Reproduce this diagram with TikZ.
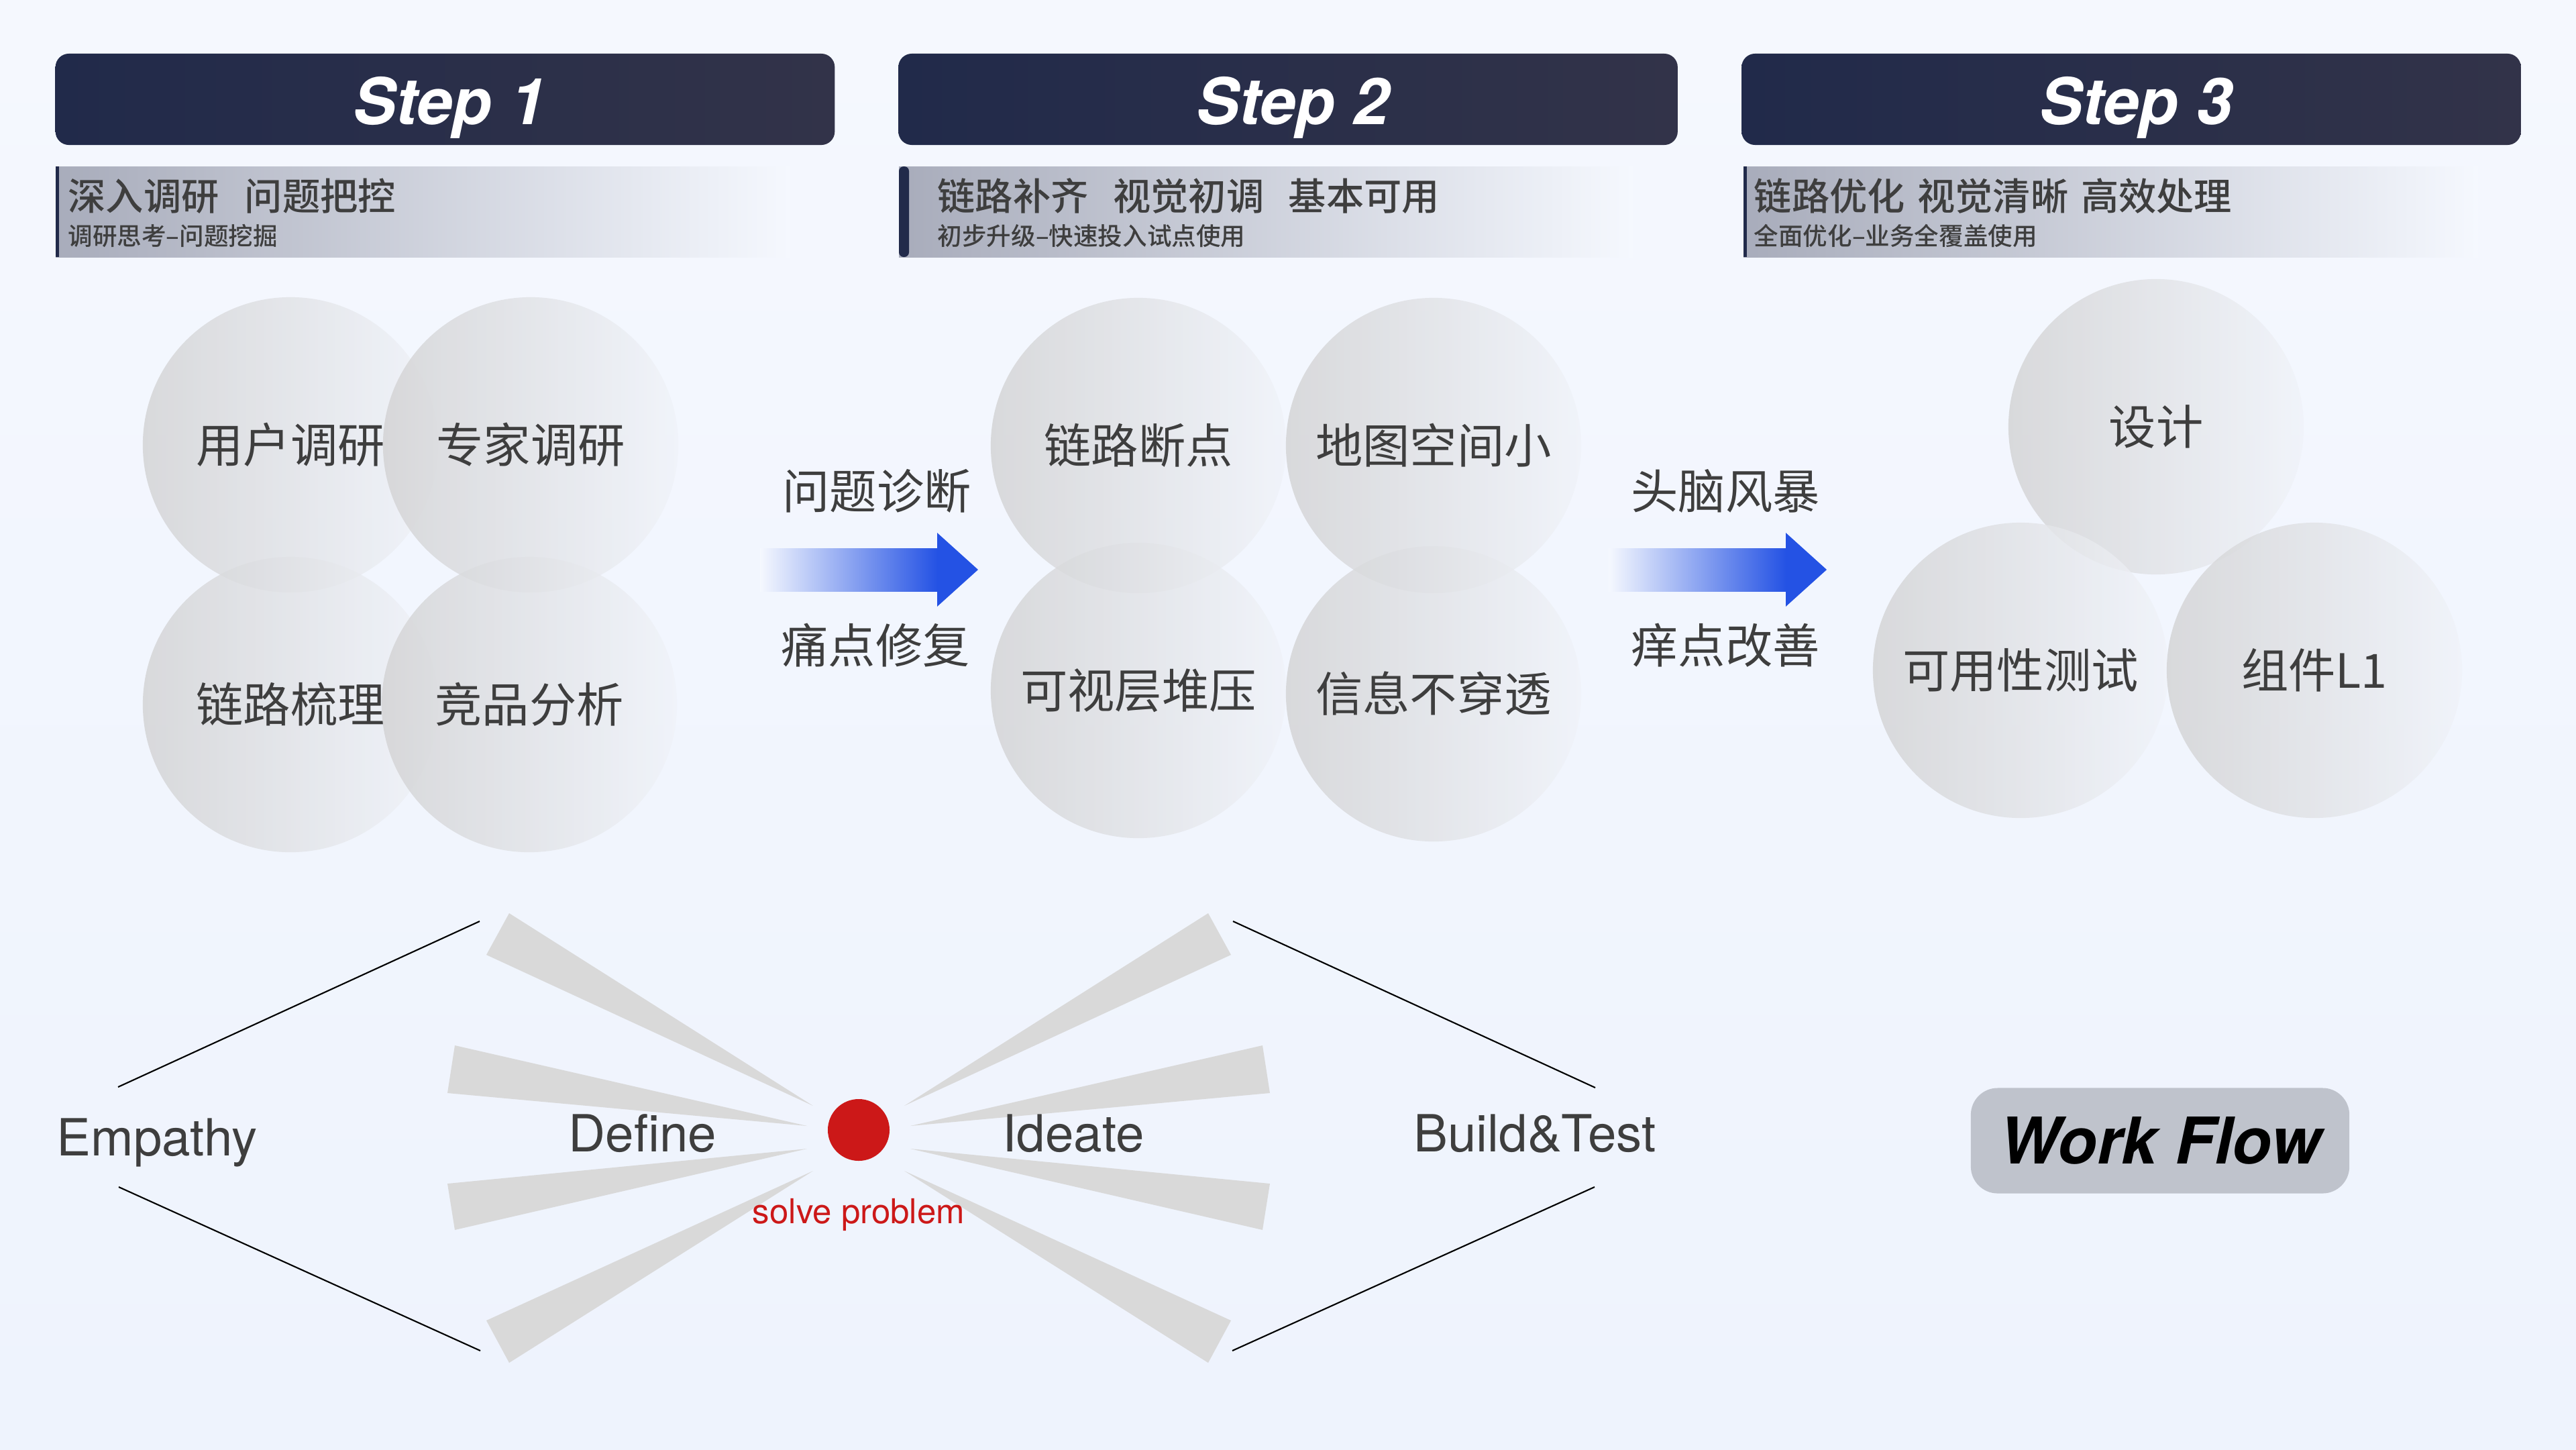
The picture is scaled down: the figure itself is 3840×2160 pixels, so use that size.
\documentclass[tikz,border=0pt]{standalone}
\usepackage{fontspec}
\setmainfont{TeX Gyre Heros}
\newfontfamily\cjk{Noto Sans CJK SC}
\newfontfamily\cjkmid{Noto Sans CJK SC Medium}
\usepackage{tikz}

\definecolor{bgtop}{RGB}{245,248,254}
\definecolor{bgbot}{RGB}{238,243,253}
\definecolor{navyl}{RGB}{33,42,74}
\definecolor{navyr}{RGB}{50,51,73}
\definecolor{barl}{RGB}{168,172,187}
\definecolor{ink}{RGB}{62,62,62}
\definecolor{arrowblue}{RGB}{36,82,228}
\definecolor{wedgegray}{RGB}{217,217,217}
\definecolor{dotred}{RGB}{204,24,24}
\definecolor{bubl}{RGB}{210,210,211}
\definecolor{bubr}{RGB}{240,243,249}
\definecolor{flowgray}{RGB}{191,195,204}

\begin{document}
\begin{tikzpicture}[x=0.01cm,y=-0.01cm,
    stepbox/.style={rounded corners=0.2cm,left color=navyl,right color=navyr,minimum width=11.61cm,minimum height=1.36cm,inner sep=0},
    steptext/.style={anchor=base,inner sep=0,text=white,font=\bfseries\itshape\fontsize{27.3}{30}\selectfont},
    bartitle/.style={anchor=west,inner sep=0,text=ink,font=\cjkmid\fontsize{16}{18}\selectfont},
    barsub/.style={anchor=west,inner sep=0,text=ink,font=\cjkmid\fontsize{10.4}{12}\selectfont},
    bubble/.style={circle,minimum size=4.4cm,inner sep=0,left color=bubl,right color=bubr,fill opacity=0.8,text opacity=1,text=ink,font=\cjk\fontsize{20}{24}\selectfont},
    arrowtext/.style={inner sep=0,text=ink,font=\cjk\fontsize{20}{24}\selectfont},
    phase/.style={anchor=base,inner sep=0,text=ink,font=\fontsize{21.7}{24}\selectfont},
    wedge/.style={fill=wedgegray},
    spoke/.style={line width=0.6pt,black},
    flowbox/.style={rounded corners=0.4cm,fill=flowgray,minimum width=5.64cm,minimum height=1.57cm,inner sep=0,font=\bfseries\itshape\fontsize{27.3}{30}\selectfont}]

    % background
    \shade[top color=bgtop,bottom color=bgbot] (0,0) rectangle (3840,2160);
    \useasboundingbox (0,0) rectangle (3840,2160);

    % step headers
    \node[stepbox] (s1) at (663.5,148) {};
    \node[stepbox] (s2) at (1920,148) {};
    \node[stepbox] (s3) at (3177,148) {};
    \node[steptext] (t1) at (670,185) {Step 1};
    \node[steptext] (t2) at (1927,185) {Step 2};
    \node[steptext] (t3) at (3184,185) {Step 3};

    % step bars
    \shade[left color=barl,right color=bgtop] (83,248) rectangle (1178,383);
    \fill[navyl] (83,248) rectangle (88,383);
    \node[bartitle] (h1) at (101,292) {深入调研\hspace{0.68em}问题把控};
    \node[barsub] (d1) at (101,352) {调研思考–问题挖掘};

    \shade[left color=barl,right color=bgtop] (1340,248) rectangle (2435,383);
    \fill[navyl,rounded corners=0.07cm] (1340,248) rectangle (1355,383);
    \node[bartitle] (h2) at (1397,292) {链路补齐\hspace{0.65em}视觉初调\hspace{0.65em}基本可用};
    \node[barsub] (d2) at (1397,352) {初步升级–快速投入试点使用};

    \shade[left color=barl,right color=bgtop] (2599,248) rectangle (3694,383);
    \fill[navyl] (2599,248) rectangle (2604,383);
    \node[bartitle] (h3) at (2614,292) {链路优化\hspace{0.33em}视觉清晰\hspace{0.33em}高效处理};
    \node[barsub] (d3) at (2614,352) {全面优化–业务全覆盖使用};

    % step 1 bubbles
    \node[bubble] (u1) at (433,663) {用户调研};
    \node[bubble] (u2) at (791,663) {专家调研};
    \node[bubble] (u3) at (433,1050) {链路梳理};
    \node[bubble] (u4) at (789,1050) {竞品分析};

    % step 2 bubbles
    \node[bubble] (v1) at (1697,664) {链路断点};
    \node[bubble] (v2) at (2137,664) {地图空间小};
    \node[bubble] (v3) at (1697,1029) {可视层堆压};
    \node[bubble] (v4) at (2137,1034) {信息不穿透};

    % step 3 bubbles
    \node[bubble] (w1) at (3214,636) {设计};
    \node[bubble] (w2) at (3012,999) {可用性测试};
    \node[bubble] (w3) at (3450,999) {组件L1};

    % arrows between steps
    \shade[left color=bgtop,right color=arrowblue] (1133,817) rectangle (1398,881);
    \fill[arrowblue] (1397,794) -- (1458,849) -- (1397,904) -- cycle;
    \node[arrowtext] (q1) at (1307,732) {问题诊断};
    \node[arrowtext] (p1) at (1305,962) {痛点修复};

    \shade[left color=bgtop,right color=arrowblue] (2398,817) rectangle (2663,881);
    \fill[arrowblue] (2662,794) -- (2723,849) -- (2662,904) -- cycle;
    \node[arrowtext] (q2) at (2572,732) {头脑风暴};
    \node[arrowtext] (p2) at (2572,962) {痒点改善};

    % burst round the dot
    \fill[wedge] (759,1361) -- (1212,1648) -- (725,1423) -- cycle;
    \fill[wedge] (678,1558) -- (1203,1678) -- (667,1629) -- cycle;
    \fill[wedge] (667,1764) -- (1203,1712) -- (678,1833) -- cycle;
    \fill[wedge] (725,1968) -- (1212,1745) -- (759,2031) -- cycle;
    \fill[wedge] (1801,1361) -- (1348,1648) -- (1835,1423) -- cycle;
    \fill[wedge] (1882,1558) -- (1357,1678) -- (1893,1629) -- cycle;
    \fill[wedge] (1893,1764) -- (1357,1712) -- (1882,1833) -- cycle;
    \fill[wedge] (1835,1968) -- (1348,1745) -- (1801,2031) -- cycle;

    \node[circle,fill=dotred,minimum size=0.92cm,inner sep=0] (dot) at (1280,1684) {};
    \node[anchor=base,inner sep=0,text=dotred,font=\fontsize{14.5}{17}\selectfont] (sp) at (1280,1823) {solve problem};

    % phases
    \node[phase] (em) at (234,1722) {Empathy};
    \node[phase] (df) at (958,1716) {Define};
    \node[phase] (id) at (1600,1716) {Ideate};
    \node[phase] (bt) at (2288,1716) {Build\&Test};

    \coordinate (e1) at (176,1620);
    \coordinate (e2) at (715,1373);
    \coordinate (e3) at (177,1769);
    \coordinate (e4) at (716,2013);
    \coordinate (b1) at (2378,1621);
    \coordinate (b2) at (1838,1373);
    \coordinate (b3) at (2377,1769);
    \coordinate (b4) at (1837,2013);
    \draw[spoke] (e1) -- (e2);
    \draw[spoke] (e3) -- (e4);
    \draw[spoke] (b1) -- (b2);
    \draw[spoke] (b3) -- (b4);

    \node[flowbox] (wf) at (3220,1700) {Work Flow};
\end{tikzpicture}
\end{document}
